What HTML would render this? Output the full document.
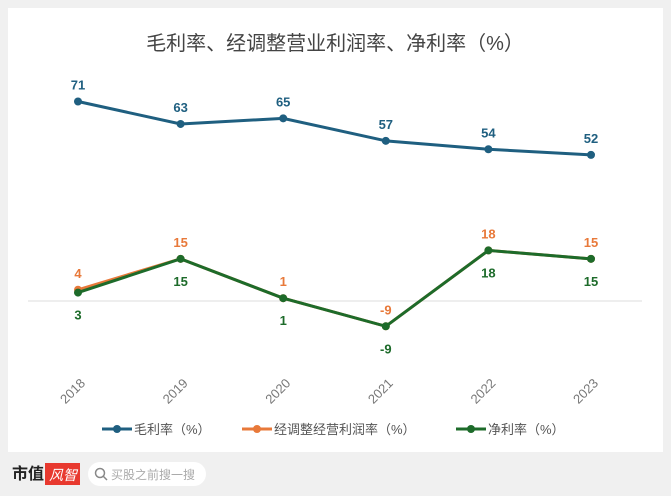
<!DOCTYPE html>
<html><head><meta charset="utf-8"><style>
body{margin:0;width:671px;height:496px;background:#f0f0f0;font-family:"Liberation Sans","Noto Sans CJK SC",sans-serif;overflow:hidden;position:relative}
#card{position:absolute;left:8px;top:8px;width:655px;height:444px;background:#fff}
</style></head><body>
<div id="card"></div>
<svg id="chart" width="671" height="496" style="position:absolute;left:0;top:0">
<text x="335" y="50" text-anchor="middle" font-size="20" fill="#444">毛利率、经调整营业利润率、净利率（%）</text>
<line x1="28" x2="642" y1="301" y2="301" stroke="#ddd"/>
<g id="plot"></g>
<g id="legend" font-size="13" fill="#555">
<g><line x1="102" x2="132" y1="429" y2="429" stroke="#1f5f80" stroke-width="3"/><circle cx="117" cy="429" r="4" fill="#1f5f80"/><text x="134" y="434">毛利率（%）</text></g>
<g><line x1="242" x2="272" y1="429" y2="429" stroke="#e8793a" stroke-width="3"/><circle cx="257" cy="429" r="4" fill="#e8793a"/><text x="274" y="434">经调整经营利润率（%）</text></g>
<g><line x1="456" x2="486" y1="429" y2="429" stroke="#1d6b2a" stroke-width="3"/><circle cx="471" cy="429" r="4" fill="#1d6b2a"/><text x="488" y="434">净利率（%）</text></g>
</g>
<g><text x="12" y="479" font-size="16" font-weight="bold" fill="#222">市值</text>
<rect x="45" y="463" width="35" height="22" fill="#e8392f"/><text x="49" y="480" font-size="14" font-style="italic" fill="#fff">风智</text></g>
<g><rect x="88" y="462" width="118" height="24" rx="12" fill="#fff"/>
<circle cx="100" cy="473" r="4.5" fill="none" stroke="#888" stroke-width="1.5"/><line x1="103" y1="476" x2="107" y2="480" stroke="#888" stroke-width="1.5"/>
<text x="111" y="479" font-size="12" fill="#aaa">买股之前搜一搜</text></g>
</svg>
<script>
const years=["2018","2019","2020","2021","2022","2023"];
const gross=[71,63,65,57,54,52];
const adjusted=[4,15,1,-9,18,15];
const net=[3,15,1,-9,18,15];
const ns="http://www.w3.org/2000/svg";
const g=document.getElementById('plot');
const x=i=>78+i*102.6;
const y=v=>301-v*2.81;
function mk(t,a){const e=document.createElementNS(ns,t);for(const k in a)e.setAttribute(k,a[k]);g.appendChild(e);return e;}
function series(data,color,name,labelPos){
  const p=mk('polyline',{points:data.map((v,i)=>x(i)+','+y(v)).join(' '),fill:'none',stroke:color,'stroke-width':3});
  
  
  data.forEach((v,i)=>{
    const c=mk('circle',{cx:x(i),cy:y(v),r:4,fill:color});
    
    
    const above=labelPos(i);
    const t=mk('text',{x:x(i),y:above?y(v)-12:y(v)+27,'text-anchor':'middle','font-size':13,'font-weight':'bold',fill:color});
    t.textContent=v;
    
    
  });
}
series(gross,'#1f5f80','gross-margin',()=>true);
series(adjusted,'#e8793a','adjusted-margin',()=>true);
series(net,'#1d6b2a','net-margin',()=>false);
years.forEach((yr,i)=>{
  const t=mk('text',{x:x(i)+8,y:384,'text-anchor':'end','font-size':13,fill:'#777',transform:`rotate(-45 ${x(i)+8} 384)`});
  t.textContent=yr;
  
  
});
</script>
</body></html>
